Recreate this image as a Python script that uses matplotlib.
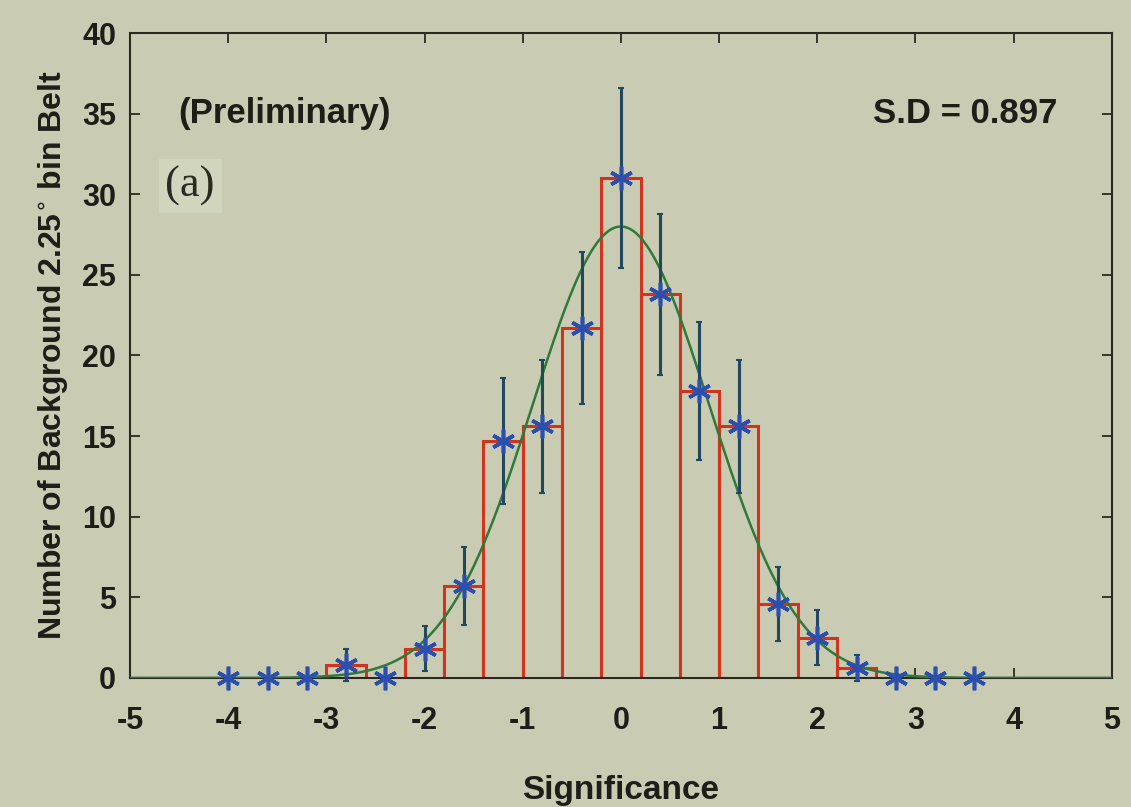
import numpy as np
import matplotlib
matplotlib.use("Agg")
import matplotlib.pyplot as plt

# ---- data ----
bin_centers = [-4.0, -3.6, -3.2, -2.8, -2.4, -2.0, -1.6, -1.2, -0.8, -0.4,
               0.0, 0.4, 0.8, 1.2, 1.6, 2.0, 2.4, 2.8, 3.2, 3.6]
counts = [0, 0, 0, 0.8, 0, 1.8, 5.7, 14.7, 15.6, 21.7,
          31.0, 23.8, 17.8, 15.6, 4.6, 2.5, 0.6, 0, 0, 0]
errors = [0, 0, 0, 1.0, 0, 1.4, 2.4, 3.9, 4.1, 4.7,
          5.6, 5.0, 4.3, 4.1, 2.3, 1.7, 0.8, 0, 0, 0]
bin_width = 0.4
# Gaussian fit parameters
fit_amp = 28.0
fit_mean = 0.0
fit_sd = 0.897

xticks = [-5, -4, -3, -2, -1, 0, 1, 2, 3, 4, 5]
yticks = [0, 5, 10, 15, 20, 25, 30, 35, 40]

bg = "#c9ccb2"
red = "#d2331f"
blue = "#2b4fae"
errc = "#22485f"
green = "#2f7a38"
dark = "#2a2a22"

plt.rcParams['font.family'] = ['Liberation Sans', 'DejaVu Sans']

fig = plt.figure(figsize=(11.31, 8.07), dpi=100, facecolor=bg)
ax = fig.add_axes([0.115, 0.160, 0.868, 0.799])
ax.set_facecolor(bg)

# histogram bars (only within the occupied range)
cnt = np.array(counts)
nz = np.nonzero(cnt)[0]
lo, hi = nz.min(), nz.max()
ax.bar(bin_centers[lo:hi + 1], counts[lo:hi + 1], width=bin_width,
       facecolor=bg, edgecolor=red, linewidth=2.2, zorder=2)

# gaussian fit
xs = np.linspace(-5, 5, 600)
ax.plot(xs, fit_amp * np.exp(-0.5 * ((xs - fit_mean) / fit_sd) ** 2),
        color=green, linewidth=1.8, zorder=3)

# error bars and markers
ax.errorbar(bin_centers, counts, yerr=errors, fmt='none', ecolor=errc,
            elinewidth=2.2, capsize=2, capthick=1.5, zorder=4, clip_on=False)
ax.plot(bin_centers, counts, linestyle='none', marker=(6, 2, 0), markersize=17,
        markeredgewidth=2.6, color=blue, markeredgecolor=blue, zorder=5,
        clip_on=False)

ax.set_xlim(-5, 5)
ax.set_ylim(0, 40)
ax.set_xticks(xticks)
ax.set_yticks(yticks)
ax.set_xticklabels([str(t) for t in xticks])
ax.set_yticklabels([str(t) for t in yticks])
ax.tick_params(direction='in', length=7, width=1.3, colors=dark,
               top=True, right=True, labelsize=22)
ax.tick_params(axis='x', pad=20)
ax.tick_params(axis='y', pad=10)
for lab in ax.get_xticklabels() + ax.get_yticklabels():
    lab.set_fontweight('bold')
    lab.set_color('#1e1e18')
for s in ax.spines.values():
    s.set_color(dark)
    s.set_linewidth(1.5)

ax.set_xlabel("Significance", fontsize=24, fontweight='bold', color='#1e1e18',
              labelpad=28)
ax.set_ylabel(r"Number of Background 2.25$^{\circ}$ bin Belt", fontsize=23,
              fontweight='bold', color='#1e1e18', labelpad=8)

ax.text(-4.51, 35.0, "(Preliminary)", fontsize=25, fontweight='bold',
        color='#1e1e18', ha='left', va='center')
ax.text(4.45, 35.0, "S.D = 0.897", fontsize=25, fontweight='bold',
        color='#1e1e18', ha='right', va='center')
ax.text(-4.64, 30.5, "(a)", fontsize=32, family=['Liberation Serif', 'DejaVu Serif'],
        color='#2a2a22', ha='left', va='center',
        bbox=dict(boxstyle='square,pad=0.15', facecolor='#d2d5be',
                  edgecolor='none'))

fig.savefig("out.png", dpi=100, facecolor=bg)
